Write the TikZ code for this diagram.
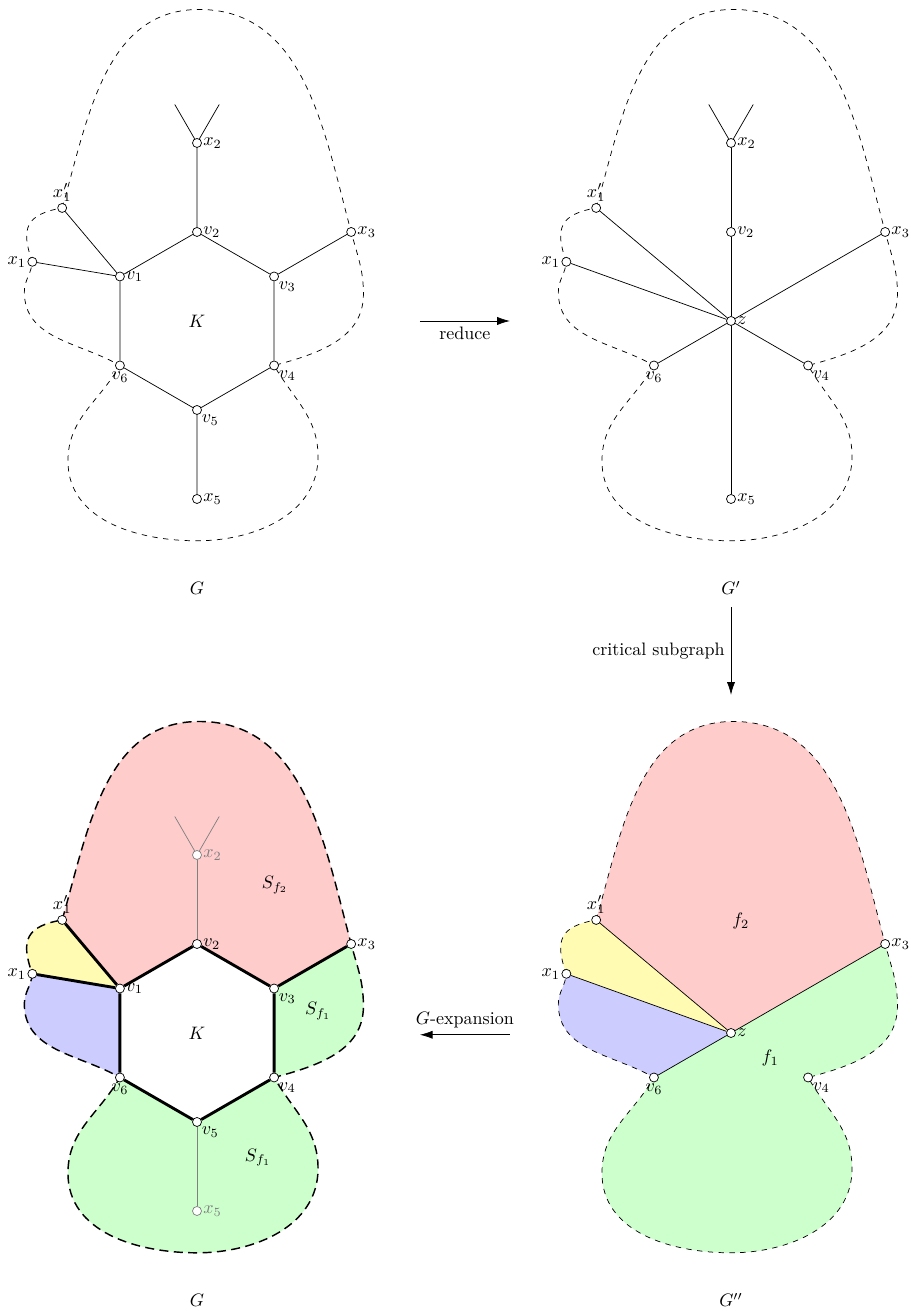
\documentclass[tikz,border=0pt]{standalone}
\usepackage{amsmath}
\usepackage{amssymb}
\usepackage{tikz}
\usetikzlibrary{
	arrows.meta,
	calc
}
\usepackage{xcolor}

% points of one panel, #1 = prefix
\newcommand{\setpts}[1]{%
	\coordinate (#1x1p) at (-3.03,2.54);
	\coordinate (#1x1) at (-3.7,1.33);
	\coordinate (#1x2) at (0,4);
	\coordinate (#1x3) at (3.464,2);
	\coordinate (#1x5) at (0,-4);
	\coordinate (#1v1) at (-1.732,1);
	\coordinate (#1v2) at (0,2);
	\coordinate (#1v3) at (1.732,1);
	\coordinate (#1v4) at (1.732,-1);
	\coordinate (#1v5) at (0,-2);
	\coordinate (#1v6) at (-1.732,-1);
	\coordinate (#1z) at (0,0);
	\coordinate (#1ya) at (-0.5,4.866);
	\coordinate (#1yb) at (0.5,4.866);
	\coordinate (#1top) at (0.05,7);
	\coordinate (#1rb) at (3.74,0.6);
	\coordinate (#1br) at (2.72,-3.05);
	\coordinate (#1bot) at (0,-4.94);
	\coordinate (#1bl) at (-2.9,-3.15);
	\coordinate (#1lb) at (-3.88,0.65);
}
% pieces of the outline
\newcommand{\arcTop}[1]{to[out=74,in=180] (#1top) to[out=0,in=105] (#1x3)}
\newcommand{\arcRight}[1]{to[out=-75,in=90] (#1rb) to[out=-90,in=15] (#1v4)}
\newcommand{\arcBottom}[1]{to[out=-60,in=90] (#1br) to[out=-90,in=0] (#1bot) to[out=180,in=-90] (#1bl) to[out=90,in=-120] (#1v6)}
\newcommand{\arcLeft}[1]{to[out=150,in=-90] (#1lb) to[out=90,in=-95] (#1x1)}
\newcommand{\arcSmall}[1]{to[out=110,in=190,looseness=1.5] (#1x1p)}

\begin{document}
\begin{tikzpicture}[>={Latex[length=7pt,width=4.5pt]},x=0.868cm,y=0.868cm,
	vtx/.style={circle,draw,fill=white,inner sep=0pt,minimum size=5pt},
	every label/.style={inner sep=0.6pt},
	outl/.style={dashed}]
	
	\useasboundingbox (-4.427,-22.36) rectangle (16.0,7.213);
	
	% G
	\begin{scope}
		\setpts{A}
		\draw[outl] (Ax1p) \arcTop{A} \arcRight{A} \arcBottom{A} \arcLeft{A} \arcSmall{A};
		\foreach \n/\p/\l in {v1/right/v_1,v2/right/v_2,v3/below right/v_3,v4/below right/v_4,v5/below right/v_5,v6/below/v_6,x1/left/x_1,x1p/above/x'_1,x2/right/x_2,x3/right/x_3,x5/right/x_5}
		\node[vtx,label={\p:$\l$}] (a\n) at (A\n) {};
		\draw (av1) -- (av2) -- (av3) -- (av4) -- (av5) -- (av6) -- (av1);
		\draw (av1) -- (ax1p) (av1) -- (ax1) (av3) -- (ax3) (av2) -- (ax2) (av5) -- (ax5);
		\draw (ax2) -- (Aya) (ax2) -- (Ayb);
		\node (ak) at (0,0) {$K$};
		\node (ag) at (0,-6) {$G$};
	\end{scope}
	
	\coordinate (ra) at (5.01,0);
	\coordinate (rb) at (7.03,0);
	\draw[->] (ra) -- (rb) node[midway,below] {reduce};
	
	% G'
	\begin{scope}[shift={(12,0)}]
		\setpts{B}
		\draw[outl] (Bx1p) \arcTop{B} \arcRight{B} \arcBottom{B} \arcLeft{B} \arcSmall{B};
		\foreach \n/\p/\l in {z/right/z,v2/right/v_2,v4/below right/v_4,v6/below/v_6,x1/left/x_1,x1p/above/x'_1,x2/right/x_2,x3/right/x_3,x5/right/x_5}
		\node[vtx,label={\p:$\l$}] (b\n) at (B\n) {};
		\draw (bz) -- (bx1p) (bz) -- (bx1) (bz) -- (bx3) (bz) -- (bv6) (bz) -- (bv4);
		\draw (bz) -- (bv2) -- (bx2) (bz) -- (bx5);
		\draw (bx2) -- (Bya) (bx2) -- (Byb);
		\node (bg) at (0,-6) {$G'$};
	\end{scope}
	
	\coordinate (ca) at (12,-6.43);
	\coordinate (cb) at (12,-8.4);
	\draw[->] (ca) -- (cb) node[midway,left] {critical subgraph};
	
	% G again, with the faces
	\begin{scope}[shift={(0,-16)}]
		\setpts{C}
		\fill[red!20] (Cx1p) \arcTop{C} -- (Cv3) -- (Cv2) -- (Cv1) -- cycle;
		\fill[green!20] (Cv3) -- (Cx3) \arcRight{C} -- cycle;
		\fill[green!20] (Cv4) \arcBottom{C} -- (Cv5) -- cycle;
		\fill[blue!20] (Cv6) \arcLeft{C} -- (Cv1) -- cycle;
		\fill[yellow!30] (Cx1) \arcSmall{C} -- (Cv1) -- cycle;
		\draw[thick,dash pattern=on 5pt off 3pt] (Cx1p) \arcTop{C} \arcRight{C} \arcBottom{C} \arcLeft{C} \arcSmall{C};
		\foreach \n/\p/\l in {v1/right/v_1,v2/right/v_2,v3/below right/v_3,v4/below right/v_4,v5/below right/v_5,v6/below/v_6,x1/left/x_1,x1p/above/x'_1,x3/right/x_3}
		\node[vtx,label={\p:$\l$}] (c\n) at (C\n) {};
		\foreach \n/\l in {x2/x_2,x5/x_5}
		\node[vtx,draw=gray,label={[gray]right:$\l$}] (c\n) at (C\n) {};
		\draw[gray] (cv2) -- (cx2) (cv5) -- (cx5);
		\draw[gray] (cx2) -- (Cya) (cx2) -- (Cyb);
		\draw[ultra thick] (cv1) -- (cv2) -- (cv3) -- (cv4) -- (cv5) -- (cv6) -- (cv1);
		\draw[ultra thick] (cv1) -- (cx1p) (cv1) -- (cx1) (cv3) -- (cx3);
		\node (ck) at (0,0) {$K$};
		\node (sa) at (1.75,3.33) {$S_{f_2}$};
		\node (sb) at (2.72,0.49) {$S_{f_1}$};
		\node (sc) at (1.37,-2.8) {$S_{f_1}$};
		\node (cg) at (0,-6) {$G$};
	\end{scope}
	
	\coordinate (ea) at (7.03,-16.04);
	\coordinate (eb) at (5.01,-16.04);
	\draw[->] (ea) -- (eb) node[midway,above] {$G$-expansion};
	
	% G''
	\begin{scope}[shift={(12,-16)}]
		\setpts{D}
		\fill[red!20] (Dx1p) \arcTop{D} -- (Dz) -- cycle;
		\fill[green!20] (Dx3) \arcRight{D} \arcBottom{D} -- (Dz) -- cycle;
		\fill[blue!20] (Dv6) \arcLeft{D} -- (Dz) -- cycle;
		\fill[yellow!30] (Dx1) \arcSmall{D} -- (Dz) -- cycle;
		\draw[outl] (Dx1p) \arcTop{D} \arcRight{D} \arcBottom{D} \arcLeft{D} \arcSmall{D};
		\foreach \n/\p/\l in {z/right/z,v4/below right/v_4,v6/below/v_6,x1/left/x_1,x1p/above/x'_1,x3/right/x_3}
		\node[vtx,label={\p:$\l$}] (d\n) at (D\n) {};
		\draw (dz) -- (dx1p) (dz) -- (dx1) (dz) -- (dx3) (dz) -- (dv6);
		\node (fa) at (0.22,2.52) {$f_2$};
		\node (fb) at (0.88,-0.56) {$f_1$};
		\node (dg) at (0,-6) {$G''$};
	\end{scope}
	
\end{tikzpicture}
\end{document}
